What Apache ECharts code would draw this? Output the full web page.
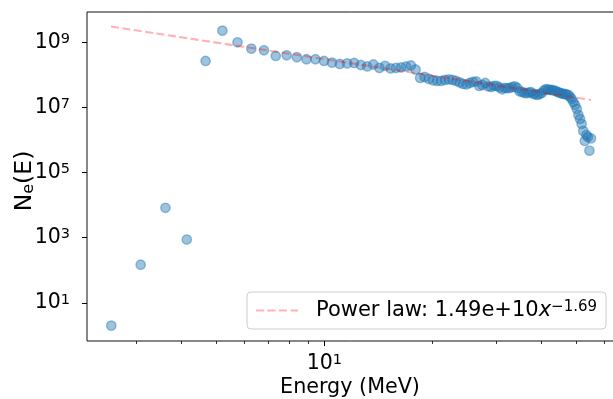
<!DOCTYPE html>
<html>
<head>
<meta charset="utf-8">
<script src="https://cdn.jsdelivr.net/npm/echarts@6/dist/echarts.min.js"></script>
<style>
  html, body { margin: 0; padding: 0; background: #fff; }
  #chart { width: 613px; height: 399px; }
</style>
</head>
<body>
<div id="chart"></div>
<script>
// energy bins (MeV)
const energy = [
  2.56, 3.09, 3.62, 4.15, 4.68, 5.21, 5.74, 6.27, 6.80, 7.33,
  7.86, 8.39, 8.92, 9.45, 9.98, 10.51, 11.04, 11.57, 12.10, 12.63,
  13.16, 13.69, 14.22, 14.75, 15.28, 15.81, 16.34, 16.87, 17.40, 17.93,
  18.46, 18.99, 19.52, 20.05, 20.58, 21.11, 21.64, 22.17, 22.70, 23.23,
  23.76, 24.29, 24.82, 25.35, 25.88, 26.41, 26.94, 27.47, 28.00, 28.53,
  29.06, 29.59, 30.12, 30.65, 31.18, 31.71, 32.24, 32.77, 33.30, 33.83,
  34.36, 34.89, 35.42, 35.95, 36.48, 37.01, 37.54, 38.07, 38.60, 39.13,
  39.66, 40.19, 40.72, 41.25, 41.78, 42.31, 42.84, 43.37, 43.90, 44.43,
  44.96, 45.49, 46.02, 46.55, 47.08, 47.61, 48.14, 48.67, 49.20, 49.73,
  50.26, 50.79, 51.32, 51.85, 52.38, 52.91, 53.44, 53.97, 54.50, 55.03
]
// N_e(E)
const counts = [
  2.0, 148, 8.3e3, 880, 2.67e8, 2.27e9, 1.0e9, 6.36e8, 5.68e8, 3.8e8,
  3.99e8, 3.47e8, 3.01e8, 3.01e8, 2.67e8, 2.37e8, 2.16e8, 2.24e8, 2.32e8, 2.01e8,
  1.81e8, 2.08e8, 1.63e8, 1.88e8, 1.57e8, 1.63e8, 1.69e8, 1.81e8, 1.94e8, 1.46e8,
  8.04e7, 8.63e7, 7.49e7, 6.73e7, 6.5e7, 6.5e7, 6.98e7, 7.23e7, 6.98e7, 6.5e7,
  5.85e7, 5.26e7, 5.08e7, 5.64e7, 6.06e7, 6.28e7, 4.57e7, 4.9e7, 5.64e7, 4.41e7,
  4.25e7, 4.57e7, 4.57e7, 4.11e7, 3.62e7, 3.96e7, 3.88e7, 3.96e7, 4.25e7, 4.41e7,
  3.96e7, 3.1e7, 2.99e7, 2.78e7, 2.73e7, 2.88e7, 2.93e7, 2.59e7, 2.54e7, 2.42e7,
  2.59e7, 2.78e7, 3.32e7, 3.62e7, 3.57e7, 3.44e7, 3.44e7, 3.32e7, 3.21e7, 2.99e7,
  2.84e7, 2.73e7, 2.59e7, 2.59e7, 2.51e7, 2.42e7, 2.1e7, 1.82e7, 1.47e7, 1.19e7,
  9.0e6, 5.89e6, 4.44e6, 3.12e6, 1.9e6, 9.4e5, 1.43e6, 1.24e6, 4.73e5, 1.12e6
]
// power law fit end points
const fitX = [2.556, 55.03]
const fitY = [3.05e9, 1.70e7]

const xMajorTicks = [10]
const xMinorTicks = [3, 4, 5, 6, 7, 8, 9, 20, 30, 40, 50, 60]
const yMajorTicks = [1e1, 1e3, 1e5, 1e7, 1e9]
const xRange = [2.192, 64.6]
const yRange = [0.676, 8.5e9]

const F = 'DejaVu Sans'
const lg = Math.log10

const supRich = {
  b: { fontSize: 20.5, fontFamily: F, color: '#000' },
  p: { fontSize: 14.5, fontFamily: F, color: '#000', verticalAlign: 'top' },
}
const powLabel = (v) => '{b|10}{p|' + Math.round(v) + '}'

const chart = echarts.init(document.getElementById('chart'))
chart.setOption({
  animation: false,
  grid: {
    left: 87,
    top: 12,
    width: 529,
    height: 329,
    outerBoundsMode: 'none',
    containLabel: false,
    show: true,
    borderColor: '#111',
    borderWidth: 1,
  },
  legend: {
    data: ['Power law'],
    left: 247,
    top: 292,
    padding: [8, 9, 8, 8],
    itemWidth: 42,
    itemHeight: 14,
    backgroundColor: 'rgba(255,255,255,0.8)',
    borderColor: '#cccccc',
    borderWidth: 1,
    borderRadius: 4,
    itemStyle: { color: 'transparent', borderWidth: 0 },
    formatter: () => '{a|Power law: 1.49e+10}{x|x}{s|\u22121.69}',
    textStyle: {
      rich: {
        a: { fontSize: 21, fontFamily: F, color: '#000', padding: [0, 0, 0, 13] },
        x: { fontSize: 21, fontFamily: F, color: '#000', fontStyle: 'italic' },
        s: { fontSize: 15, fontFamily: F, color: '#000', verticalAlign: 'top' },
      },
    },
  },
  xAxis: [
    {
      // data axis
      type: 'log',
      position: 'bottom',
      min: xRange[0],
      max: xRange[1],
      axisLine: { show: false },
      axisTick: { show: false },
      axisLabel: { show: false },
      splitLine: { show: false },
    },
    {
      // major ticks + labels
      type: 'value',
      position: 'bottom',
      min: lg(xRange[0]),
      max: lg(xRange[1]),
      axisLine: { show: false },
      splitLine: { show: false },
      axisTick: { show: true, length: 5, customValues: xMajorTicks.map(lg), lineStyle: { color: '#000', width: 1 } },
      axisLabel: { customValues: xMajorTicks.map(lg), formatter: powLabel, rich: supRich, margin: 12 },
      name: 'Energy (MeV)',
      nameLocation: 'middle',
      nameGap: 36,
      nameMoveOverlap: false,
      nameTextStyle: { fontSize: 20.7, fontFamily: F, color: '#000', padding: [0, 3, 0, 0] },
    },
    {
      // minor ticks
      type: 'value',
      position: 'bottom',
      min: lg(xRange[0]),
      max: lg(xRange[1]),
      axisLine: { show: false },
      splitLine: { show: false },
      axisLabel: { show: false },
      axisTick: { show: true, length: 3, customValues: xMinorTicks.map(lg), lineStyle: { color: '#000', width: 0.8 } },
    },
  ],
  yAxis: [
    {
      type: 'log',
      position: 'left',
      min: yRange[0],
      max: yRange[1],
      axisLine: { show: false },
      axisTick: { show: false },
      axisLabel: { show: false },
      splitLine: { show: false },
    },
    {
      type: 'value',
      position: 'left',
      min: lg(yRange[0]),
      max: lg(yRange[1]),
      axisLine: { show: false },
      splitLine: { show: false },
      axisTick: { show: true, length: 5, customValues: yMajorTicks.map(lg), lineStyle: { color: '#000', width: 1 } },
      axisLabel: { customValues: yMajorTicks.map(lg), formatter: powLabel, rich: supRich, margin: 17 },
      name: '{n|N}{s|e}{n|(E)}',
      nameLocation: 'middle',
      nameGap: 50,
      nameMoveOverlap: false,
      nameTextStyle: {
        padding: [0, 9, 0, 0],
        rich: {
          n: { fontSize: 23.5, fontFamily: F, color: '#000' },
          s: { fontSize: 16, fontFamily: F, color: '#000', verticalAlign: 'bottom' },
        },
      },
    },
  ],
  series: [
    {
      name: 'data',
      type: 'scatter',
      xAxisIndex: 0,
      yAxisIndex: 0,
      symbolSize: 9.4,
      itemStyle: {
        color: 'rgba(31,119,180,0.55)',
        borderColor: 'rgba(31,119,180,0.55)',
        borderWidth: 1.4,
      },
      emphasis: { disabled: true },
      data: energy.map((e, i) => [e, counts[i]]),
    },
    {
      name: 'Power law',
      type: 'line',
      xAxisIndex: 0,
      yAxisIndex: 0,
      symbol: 'none',
      lineStyle: { color: 'rgba(255,0,0,0.3)', width: 2.1, type: [8, 3.5] },
      itemStyle: { color: 'rgba(255,0,0,0.3)' },
      emphasis: { disabled: true },
      data: fitX.map((x, i) => [x, fitY[i]]),
    },
  ],
})
</script>
</body>
</html>
